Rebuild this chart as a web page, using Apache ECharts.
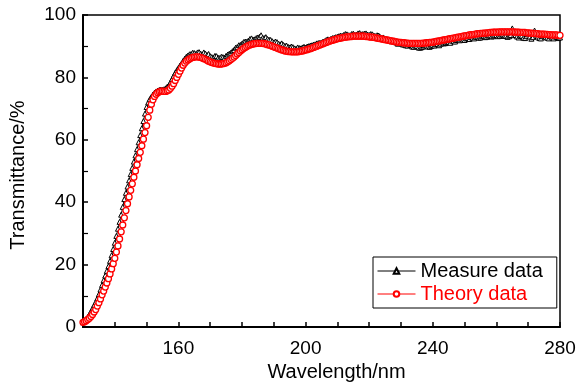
<!DOCTYPE html>
<html>
<head>
<meta charset="utf-8">
<script src="https://cdn.jsdelivr.net/npm/echarts@6/dist/echarts.min.js"></script>
<style>
  html, body { margin: 0; padding: 0; background: #fff; }
  #chart { width: 579px; height: 383px; }
</style>
</head>
<body>
<div id="chart"></div>
<script>
// wavelength in nm, 0.5 nm step
const wavelength = [
  130,130.5,131,131.5,132,132.5,133,133.5,134,134.5,135,135.5,136,136.5,137,137.5,138,138.5,139,139.5,
  140,140.5,141,141.5,142,142.5,143,143.5,144,144.5,145,145.5,146,146.5,147,147.5,148,148.5,149,149.5,
  150,150.5,151,151.5,152,152.5,153,153.5,154,154.5,155,155.5,156,156.5,157,157.5,158,158.5,159,159.5,
  160,160.5,161,161.5,162,162.5,163,163.5,164,164.5,165,165.5,166,166.5,167,167.5,168,168.5,169,169.5,
  170,170.5,171,171.5,172,172.5,173,173.5,174,174.5,175,175.5,176,176.5,177,177.5,178,178.5,179,179.5,
  180,180.5,181,181.5,182,182.5,183,183.5,184,184.5,185,185.5,186,186.5,187,187.5,188,188.5,189,189.5,
  190,190.5,191,191.5,192,192.5,193,193.5,194,194.5,195,195.5,196,196.5,197,197.5,198,198.5,199,199.5,
  200,200.5,201,201.5,202,202.5,203,203.5,204,204.5,205,205.5,206,206.5,207,207.5,208,208.5,209,209.5,
  210,210.5,211,211.5,212,212.5,213,213.5,214,214.5,215,215.5,216,216.5,217,217.5,218,218.5,219,219.5,
  220,220.5,221,221.5,222,222.5,223,223.5,224,224.5,225,225.5,226,226.5,227,227.5,228,228.5,229,229.5,
  230,230.5,231,231.5,232,232.5,233,233.5,234,234.5,235,235.5,236,236.5,237,237.5,238,238.5,239,239.5,
  240,240.5,241,241.5,242,242.5,243,243.5,244,244.5,245,245.5,246,246.5,247,247.5,248,248.5,249,249.5,
  250,250.5,251,251.5,252,252.5,253,253.5,254,254.5,255,255.5,256,256.5,257,257.5,258,258.5,259,259.5,
  260,260.5,261,261.5,262,262.5,263,263.5,264,264.5,265,265.5,266,266.5,267,267.5,268,268.5,269,269.5,
  270,270.5,271,271.5,272,272.5,273,273.5,274,274.5,275,275.5,276,276.5,277,277.5,278,278.5,279,279.5,
  280
];
// 实测透过率 (%)
const measureT = [
  1.5,1.9,2.5,3.2,4,5,6,7,8,9.2,10.5,12,13.5,15,16.5,18,19.5,21.2,23,25,
  27,29.2,31.5,33.7,36,38.5,41,43,45,47,49,51,53,55,57,59.2,61.5,63.7,66,68.4,
  70.5,72,73,73.8,74.5,75.1,75.5,75.8,76,76.1,76,76.2,76.5,77,77.5,78.4,79.5,80.5,81.5,82.3,
  83,83.8,84.5,85.3,86,86.6,87,87.4,87.5,87.9,87.8,87.5,88,88.1,87.6,87.4,88,87.6,87.2,87.5,
  86.8,86.5,86.4,86.9,86.8,86.3,86.2,86.6,86.5,86.3,86.9,87.3,87.6,87.9,88.4,88.8,89.5,89.7,90.3,90.4,
  90.8,91.3,91.5,91.4,91.8,92.3,92.5,92.1,92.2,92.6,92.8,93,93.5,92.7,92.6,92.9,92.3,92.1,92,91.6,
  91.2,91.5,91.3,90.8,90.6,90.9,90.4,90.1,90.2,89.8,89.6,89.9,89.7,89.3,89.2,89.6,89.4,89.3,89.6,89.8,
  89.5,89.9,90,90.2,90.3,90.5,90.6,90.9,91,91.1,91.2,91.5,91.6,92,92.2,92.1,92.4,92.6,92.7,92.9,
  93,93.2,93.4,93.3,93.6,93.9,93.8,93.5,93.5,93.9,94,93.6,93.7,94.1,94.2,93.8,93.9,94,94.1,93.7,
  93.6,93.9,93.8,93.4,93.2,93.5,93.4,92.9,92.6,92.8,92.4,92.2,92.1,91.8,91.6,91.7,91.4,91.2,90.8,91.1,
  91,90.6,90.5,90.3,90.2,90.6,90.4,89.9,89.8,90.2,90.1,89.6,89.5,89.7,89.9,90.3,90.2,89.9,89.8,90.1,
  90.4,90.2,90.6,90.7,90.3,90.8,91.2,90.9,91,91.3,91.4,91.1,91.8,91.6,91.5,92,92.2,91.9,92.4,92.1,
  92,92.5,92.6,92.3,92.9,92.7,92.5,93,93.1,92.7,92.8,93.2,93.4,92.9,93,93.4,93.5,93.1,93.2,93.5,
  93.6,93.2,93.3,93.7,93.8,93.3,93.4,93,93.2,93.6,95.7,93.5,93.6,93.1,92.8,93.3,93.4,92.7,92.6,93.2,
  93.8,93.1,92.4,92.9,95,93.4,93.1,92.6,92.5,93.2,93.6,93,92.7,92.5,93.2,92.8,92.5,93.1,93,92.6,
  92.8
];
// 理论透过率 (%)
const theoryT = [
  1.5,1.7,2,2.4,2.8,3.4,4,4.8,5.6,6.7,7.8,9,10.3,11.5,12.8,14.1,15.5,17,18.6,20.3,
  22,24,26,28.2,30.5,32.7,35,37.3,39.5,41.7,43.8,45.9,48,50,52,54,56,58.1,60.2,62.3,
  64.5,67.2,69.5,71.4,72.8,73.9,74.6,75.1,75.4,75.6,75.6,75.5,75.5,75.7,76,76.5,77.2,78,79,80,
  81,82,83,83.9,84.6,85.2,85.6,85.9,86.2,86.4,86.5,86.6,86.6,86.5,86.4,86.2,86,85.8,85.5,85.2,
  85,84.8,84.6,84.5,84.4,84.3,84.3,84.3,84.4,84.5,84.7,85,85.3,85.7,86.1,86.5,87,87.5,88,88.5,
  88.9,89.3,89.6,89.9,90.2,90.4,90.6,90.7,90.8,90.9,90.9,90.9,90.9,90.9,90.8,90.7,90.5,90.4,90.2,90,
  89.8,89.6,89.4,89.2,89,88.8,88.7,88.5,88.4,88.3,88.3,88.2,88.2,88.2,88.2,88.2,88.3,88.4,88.5,88.6,
  88.8,88.9,89.1,89.2,89.4,89.6,89.8,90,90.2,90.4,90.6,90.8,91,91.2,91.4,91.6,91.8,91.9,92.1,92.2,
  92.4,92.5,92.6,92.7,92.8,92.9,93,93,93.1,93.1,93.2,93.2,93.2,93.2,93.2,93.2,93.2,93.2,93.1,93.1,
  93,92.9,92.9,92.8,92.7,92.6,92.5,92.4,92.3,92.2,92.1,92,91.9,91.8,91.7,91.6,91.5,91.4,91.3,91.2,
  91.2,91.1,91.1,91,91,90.9,90.9,90.9,90.9,90.9,90.9,90.9,90.9,90.9,91,91,91.1,91.1,91.2,91.2,
  91.3,91.4,91.5,91.6,91.7,91.8,91.9,92,92.1,92.2,92.3,92.4,92.5,92.6,92.7,92.8,92.9,93,93.1,93.2,
  93.3,93.4,93.5,93.6,93.7,93.7,93.8,93.9,94,94,94.1,94.1,94.2,94.2,94.3,94.3,94.4,94.4,94.5,94.5,
  94.5,94.5,94.6,94.6,94.6,94.6,94.6,94.6,94.6,94.6,94.6,94.6,94.5,94.5,94.5,94.4,94.4,94.4,94.4,94.3,
  94.3,94.2,94.2,94.1,94.1,94,94,93.9,93.9,93.9,93.9,93.8,93.8,93.7,93.7,93.6,93.6,93.6,93.6,93.5,
  93.5
];
const xLabels = [160, 200, 240, 280];
const yLabels = [0, 20, 40, 60, 80, 100];

const font = 'Liberation Sans, Arial, sans-serif';
const chart = echarts.init(document.getElementById('chart'));

function pairs(ys) {
  return wavelength.map(function (x, i) { return [x, ys[i]]; });
}

const option = {
  animation: false,
  backgroundColor: '#fff',
  textStyle: { fontFamily: font },
  grid: {
    left: 83, right: 19, top: 15, bottom: 56,
    outerBoundsMode: 'none',
    containLabel: false,
    show: true, borderColor: '#000', borderWidth: 1.5, backgroundColor: 'transparent'
  },
  legend: {
    left: 373, top: 257,
    orient: 'vertical',
    itemGap: 3,
    itemWidth: 38, itemHeight: 7,
    padding: [4, 14, 4, 4],
    borderColor: '#000', borderWidth: 1,
    backgroundColor: '#fff',
    lineStyle: { width: 1 },
    textStyle: { fontSize: 20, fontFamily: font },
    data: [
      { name: 'Measure data', textStyle: { color: '#000' } },
      { name: 'Theory data', textStyle: { color: '#ff0000' } }
    ]
  },
  xAxis: {
    type: 'value',
    min: 130, max: 280, interval: 10,
    name: 'Wavelength/nm',
    nameLocation: 'middle',
    nameGap: 35,
    nameTextStyle: { fontSize: 20, color: '#000', fontFamily: font, padding: [0, 0, 0, 30] },
    axisLine: { lineStyle: { color: '#000', width: 2 } },
    axisTick: { inside: true, length: 5, lineStyle: { color: '#000', width: 1.5 } },
    axisLabel: {
      fontSize: 19, color: '#000', margin: 12, fontFamily: font,
      formatter: function (v) { return xLabels.indexOf(v) >= 0 ? String(v) : ''; }
    },
    splitLine: { show: false }
  },
  yAxis: {
    type: 'value',
    min: 0, max: 100, interval: 20,
    name: 'Transmittance/%',
    nameLocation: 'middle',
    nameGap: 55,
    nameTextStyle: { fontSize: 20, color: '#000', fontFamily: font, padding: [0, 8, 0, 0] },
    axisLine: { show: true, lineStyle: { color: '#000', width: 2 } },
    axisTick: { inside: true, length: 5, lineStyle: { color: '#000', width: 1.5 } },
    minorTick: { show: true, splitNumber: 2, length: 5, lineStyle: { color: '#000', width: 1.2 } },
    axisLabel: {
      fontSize: 19, color: '#000', margin: 7, fontFamily: font,
      formatter: function (v) { return yLabels.indexOf(v) >= 0 ? String(v) : ''; }
    },
    splitLine: { show: false }
  },
  series: [
    {
      name: 'Measure data',
      type: 'line',
      data: pairs(measureT),
      symbol: 'triangle',
      symbolSize: 5,
      showAllSymbol: true,
      lineStyle: { color: '#000', width: 1 },
      itemStyle: { color: '#fff', borderColor: '#000', borderWidth: 1 },
      z: 2
    },
    {
      name: 'Theory data',
      type: 'line',
      data: pairs(theoryT),
      symbol: 'circle',
      symbolSize: 6,
      showAllSymbol: true,
      lineStyle: { color: '#ff0000', width: 1 },
      itemStyle: { color: '#fff', borderColor: '#ff0000', borderWidth: 1.3 },
      z: 3
    }
  ]
};
chart.setOption(option);
</script>
</body>
</html>
